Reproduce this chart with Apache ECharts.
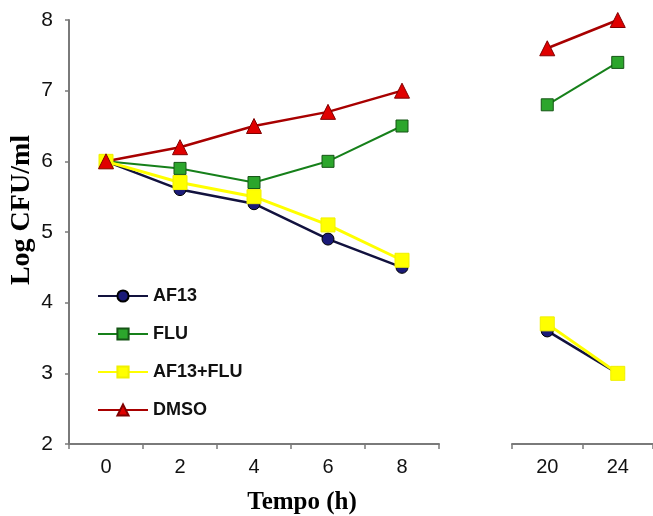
<!DOCTYPE html>
<html>
<head>
<meta charset="utf-8">
<script src="https://cdn.jsdelivr.net/npm/echarts@6/dist/echarts.min.js"></script>
<style>
html,body{margin:0;padding:0;background:#fff;}
#chart{width:653px;height:516px;}
</style>
</head>
<body>
<div id="chart"></div>
<script>
// ---- data ----
var timesEarly = ['0', '2', '4', '6', '8'];
var timesLate = ['20', '24'];
var af13Early = [6.0, 5.6, 5.4, 4.9, 4.5];
var af13Late = [3.6, 3.0];
var fluEarly = [6.0, 5.9, 5.7, 6.0, 6.5];
var fluLate = [6.8, 7.4];
var comboEarly = [6.0, 5.7, 5.5, 5.1, 4.6];
var comboLate = [3.7, 3.0];
var dmsoEarly = [6.0, 6.2, 6.5, 6.7, 7.0];
var dmsoLate = [7.6, 8.0];
var seriesNames = ['AF13', 'FLU', 'AF13+FLU', 'DMSO'];
var yTitle = 'Log CFU/ml';
var xTitle = 'Tempo (h)';

var tickFont = "'Liberation Sans Narrow', 'Liberation Sans', Arial, sans-serif";
var axisLineStyle = { color: '#7a7a7a', width: 2 };

var styles = {
  'AF13': { symbol: 'circle', size: 12, color: '#1a1a78', border: '#000000', line: '#12123e', width: 2.5 },
  'FLU': { symbol: 'rect', size: 12, color: '#2ca62c', border: '#155415', line: '#16801a', width: 2 },
  'AF13+FLU': { symbol: 'rect', size: 14, color: '#ffff00', border: '#f0f000', line: '#ffff00', width: 3 },
  'DMSO': { symbol: 'triangle', size: 15, color: '#e00000', border: '#800000', line: '#a80000', width: 2.5 }
};

function mk(name, data, idx) {
  var s = styles[name];
  return {
    name: name, type: 'line', data: data,
    xAxisIndex: idx, yAxisIndex: idx,
    symbol: s.symbol, symbolSize: s.size,
    lineStyle: { color: s.line, width: s.width },
    itemStyle: { color: s.color, borderColor: s.border, borderWidth: 1 },
    animation: false
  };
}

var series = [
  mk('AF13', af13Early, 0), mk('AF13', af13Late, 1),
  mk('FLU', fluEarly, 0), mk('FLU', fluLate, 1),
  mk('AF13+FLU', comboEarly, 0), mk('AF13+FLU', comboLate, 1),
  mk('DMSO', dmsoEarly, 0), mk('DMSO', dmsoLate, 1)
];

function xAx(cats, gi) {
  return {
    type: 'category', gridIndex: gi, data: cats, boundaryGap: true,
    axisLine: { show: true, lineStyle: axisLineStyle },
    axisTick: { show: true, length: 5, lineStyle: { color: '#7a7a7a', width: 1.5 } },
    axisLabel: { fontFamily: tickFont, fontSize: 20, color: '#111', margin: 13 },
    splitLine: { show: false }
  };
}

var chart = echarts.init(document.getElementById('chart'), null, { renderer: 'canvas' });
chart.setOption({
  backgroundColor: '#ffffff',
  animation: false,
  grid: [
    { left: 69, top: 20, width: 370, height: 424 },
    { left: 512, top: 20, width: 150, height: 424 }
  ],
  xAxis: [xAx(timesEarly, 0), xAx(timesLate, 1)],
  yAxis: [
    {
      type: 'value', gridIndex: 0, min: 2, max: 8, interval: 1,
      axisLine: { show: true, lineStyle: axisLineStyle },
      axisTick: { show: true, length: 4, lineStyle: { color: '#7a7a7a', width: 1.5 } },
      axisLabel: { fontFamily: tickFont, fontSize: 21, color: '#111', margin: 16 },
      splitLine: { show: false }
    },
    { type: 'value', gridIndex: 1, min: 2, max: 8, interval: 1, show: false, splitLine: { show: false } }
  ],
  legend: {
    data: seriesNames,
    orient: 'vertical', left: 92, top: 282,
    itemWidth: 50, itemHeight: 14, itemGap: 20,
    textStyle: { fontFamily: "'Liberation Sans', Arial, sans-serif", fontSize: 18, fontWeight: 'bold', color: '#111' }
  },
  graphic: [
    {
      type: 'text', x: 22, y: 210, rotation: Math.PI / 2,
      style: { text: yTitle, font: "bold 28px 'Liberation Serif', 'Times New Roman', serif", fill: '#000', align: 'center', verticalAlign: 'middle' }
    },
    {
      type: 'text', x: 302, y: 503,
      style: { text: xTitle, font: "bold 25px 'Liberation Serif', 'Times New Roman', serif", fill: '#000', align: 'center', verticalAlign: 'middle' }
    }
  ],
  series: series
});
</script>
</body>
</html>
